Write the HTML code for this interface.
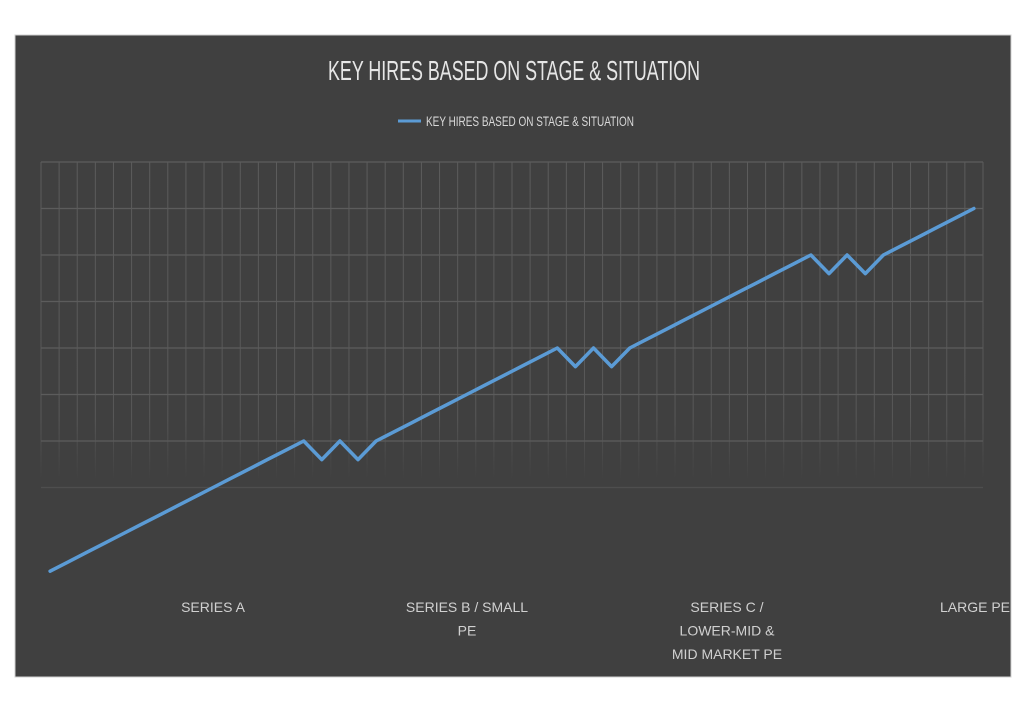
<!DOCTYPE html>
<html><head><meta charset="utf-8"><style>
html,body{margin:0;padding:0;background:#fff;width:1024px;height:724px;overflow:hidden}
svg text{font-family:"Liberation Sans Narrow","Liberation Sans",sans-serif}
</style></head><body>
<svg id="chart" width="1024" height="724" xmlns="http://www.w3.org/2000/svg">
<defs>
<linearGradient id="fade" x1="0" y1="162" x2="0" y2="480" gradientUnits="userSpaceOnUse">
<stop offset="0" stop-color="#5c5c5c"/><stop offset="0.8" stop-color="#585858"/><stop offset="1" stop-color="#404040"/>
</linearGradient>
</defs>
<rect x="15" y="35" width="996" height="642" fill="#404040" stroke="#d0d0d0" stroke-width="1"/>
<text x="514" y="80" text-anchor="middle" font-size="28" fill="#e6e6e6" textLength="372" lengthAdjust="spacingAndGlyphs">KEY HIRES BASED ON STAGE &amp; SITUATION</text>
<g>
<line x1="398" y1="121" x2="421" y2="121" stroke="#5b9bd5" stroke-width="3"/>
<text x="426" y="126" font-size="14" fill="#d9d9d9" textLength="208" lengthAdjust="spacingAndGlyphs">KEY HIRES BASED ON STAGE &amp; SITUATION</text>
</g>
<g id="grid"></g>
<g id="xlabels"></g>
<path id="series" fill="none" stroke="#5b9bd5" stroke-width="3.5" stroke-linejoin="round" stroke-linecap="round"/>
</svg>
<script>
const values = [0.2,0.4,0.6,0.8,1.0,1.2,1.4,1.6,1.8,2.0,2.2,2.4,2.6,2.8,3.0,2.6,3.0,2.6,3.0,3.2,3.4,3.6,3.8,4.0,4.2,4.4,4.6,4.8,5.0,4.6,5.0,4.6,5.0,5.2,5.4,5.6,5.8,6.0,6.2,6.4,6.6,6.8,7.0,6.6,7.0,6.6,7.0,7.2,7.4,7.6,7.8,8.0];
const yTicks = [2,3,4,5,6,7,8,9];
const categoryLabels = [
  {index:9, lines:["SERIES A"]},
  {index:23, lines:["SERIES B / SMALL","PE"]},
  {index:37, lines:["SERIES C /","LOWER-MID &","MID MARKET PE"]},
  {index:51, lines:["LARGE PE"]}
];
const NS="http://www.w3.org/2000/svg";
const plotL=41, plotR=983, n=values.length, step=(plotR-plotL)/n;
const x=i=>plotL+step*(i+0.5);
const y=v=>162+(9-v)*46.5;
const grid=document.getElementById('grid');
for(let k=0;k<=n;k++){
  const l=document.createElementNS(NS,'line');
  
  
  const gx=plotL+step*k;
  l.setAttribute('x1',gx);l.setAttribute('x2',gx);l.setAttribute('y1',162);l.setAttribute('y2',480);
  l.setAttribute('stroke','url(#fade)');l.setAttribute('stroke-width',1);
  grid.appendChild(l);
}
yTicks.forEach(t=>{
  const l=document.createElementNS(NS,'line');
  
  
  const gy=y(t);
  l.setAttribute('x1',plotL);l.setAttribute('x2',plotR);l.setAttribute('y1',gy);l.setAttribute('y2',gy);
  l.setAttribute('stroke',gy>450?'#4e4e4e':'#5c5c5c');l.setAttribute('stroke-width',1.3);
  grid.appendChild(l);
});
document.getElementById('series').setAttribute('d',values.map((v,i)=>(i?'L':'M')+x(i).toFixed(1)+' '+y(v).toFixed(1)).join(' '));
const xl=document.getElementById('xlabels');
categoryLabels.forEach(c=>{
  c.lines.forEach((s,j)=>{
    const t=document.createElementNS(NS,'text');
    
    
    let cx=c.index===51?975:c.index===9?213:c.index===23?467:727;
    t.setAttribute('x',cx);t.setAttribute('y',612+j*23.5);
    t.setAttribute('text-anchor','middle');t.setAttribute('font-size','14');t.setAttribute('fill','#d0d0d0');
    t.textContent=s;xl.appendChild(t);
  });
});
</script>
</body></html>
